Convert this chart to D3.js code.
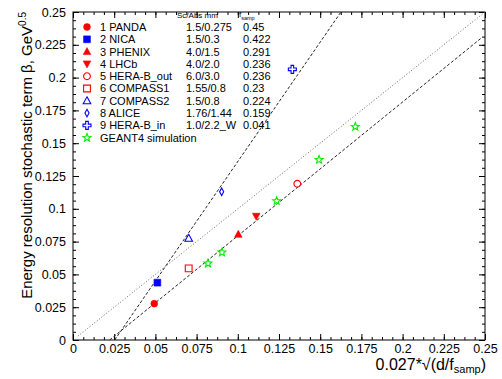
<!DOCTYPE html>
<html><head><meta charset="utf-8">
<script src="https://cdn.jsdelivr.net/npm/d3@7"></script>
<style>
body{margin:0;background:#fff;}
svg{display:block;font-family:"Liberation Sans",Arial,sans-serif;}
</style></head>
<body><svg id="c" width="502" height="379"></svg>
<script>
// ---- data ----
const names = ["1 PANDA","2 NICA","3 PHENIX","4 LHCb","5 HERA-B_out","6 COMPASS1","7 COMPASS2","8 ALICE","9 HERA-B_in"];
const scAbs = ["1.5/0.275","1.5/0.3","4.0/1.5","4.0/2.0","6.0/3.0","1.55/0.8","1.5/0.8","1.76/1.44","1.0/2.2_W"];
const fsamp = ["0.45","0.422","0.291","0.236","0.236","0.23","0.224","0.159","0.041"];
const detX = [0.0493,0.0512,0.1003,0.1112,0.1361,0.0702,0.0702,0.0902,0.1331];
const detY = [0.0277,0.0437,0.0806,0.0943,0.1191,0.0546,0.0775,0.1130,0.2063];
const geantLabel = "GEANT4 simulation";
const geantX = [0.0819,0.0904,0.1236,0.1493,0.1713];
const geantY = [0.0584,0.0668,0.1060,0.1374,0.1626];
const steepLine = [[0.0253,0.0],[0.1626,0.25]];
const shallowLine = [[0.0222,0.0],[0.2480,0.2304]];
const diagLine = [[0.003,0.003],[0.25,0.25]];
const xTicks = [0,0.025,0.05,0.075,0.1,0.125,0.15,0.175,0.2,0.225,0.25];
const yTicks = [0,0.025,0.05,0.075,0.1,0.125,0.15,0.175,0.2,0.225,0.25];

// ---- styles ----
const detStyle = [
 {m:"circle",fill:true,c:"#ff0000"},
 {m:"square",fill:true,c:"#0000ff"},
 {m:"triUp",fill:true,c:"#ff0000"},
 {m:"triDown",fill:true,c:"#ff0000"},
 {m:"circle",fill:false,c:"#ff0000"},
 {m:"square",fill:false,c:"#ff0000"},
 {m:"triUp",fill:false,c:"#0000ff"},
 {m:"diamond",fill:false,c:"#0000ff"},
 {m:"cross",fill:false,c:"#0000ff"}
];
const geantStyle = {m:"star",fill:false,c:"#00ee00"};

const W=502,H=379, L=73, R=485, T=12, B=340;
const svg = d3.select("#c");
const x = d3.scaleLinear().domain([0,0.25]).range([L,R]);
const y = d3.scaleLinear().domain([0,0.25]).range([B,T]);

function markerPath(m){
  const s=3.4;
  switch(m){
    case "circle": return d3.symbol(d3.symbolCircle, Math.PI*s*s)();
    case "square": return `M${-s},${-s}H${s}V${s}H${-s}Z`;
    case "triUp": return `M0,${-s-0.6}L${s+0.4},${s-0.4}L${-s-0.4},${s-0.4}Z`;
    case "triDown": return `M0,${s+0.6}L${s+0.4},${-s+0.4}L${-s-0.4},${-s+0.4}Z`;
    case "diamond": return `M0,${-s-0.4}L${s*0.6},0L0,${s+0.4}L${-s*0.6},0Z`;
    case "cross": {const a=1.3,b=s+0.6; return `M${-a},${-b}H${a}V${-a}H${b}V${a}H${a}V${b}H${-a}V${a}H${-b}V${-a}H${-a}Z`;}
    case "star": {
      const pts=[]; const ro=4.2, ri=1.8;
      for(let i=0;i<10;i++){const r=i%2?ri:ro; const a=-Math.PI/2+i*Math.PI/5; pts.push([r*Math.cos(a),r*Math.sin(a)]);}
      return "M"+pts.map(p=>p.join(",")).join("L")+"Z";
    }
  }
}
function drawMarker(g,cx,cy,st){
  g.append("path").attr("d",markerPath(st.m)).attr("transform",`translate(${cx},${cy})`)
   .attr("fill",st.fill?st.c:"none").attr("stroke",st.c).attr("stroke-width",st.fill?0.6:1.1);
}

// frame
svg.append("rect").attr("x",L).attr("y",T).attr("width",R-L).attr("height",B-T)
  .attr("fill","none").attr("stroke","#000").attr("stroke-width",1);

// axes (ticks inward)
const minorX = d3.range(0,0.2501,0.00625);
function axisG(axis, tr){
  const g=svg.append("g").attr("transform",tr).call(axis);
  g.select(".domain").remove();
  return g;
}
const fmt = d=> d===0?"0":String(+d.toFixed(3));
axisG(d3.axisBottom(x).tickValues(minorX).tickSize(-3).tickFormat(""),`translate(0,${B})`);
axisG(d3.axisTop(x).tickValues(minorX).tickSize(-3).tickFormat(""),`translate(0,${T})`);
axisG(d3.axisLeft(y).tickValues(minorX).tickSize(-3).tickFormat(""),`translate(${L},0)`);
axisG(d3.axisRight(y).tickValues(minorX).tickSize(-3).tickFormat(""),`translate(${R},0)`);
const xb = axisG(d3.axisBottom(x).tickValues(xTicks).tickSize(-6).tickPadding(6).tickFormat(fmt),`translate(0,${B})`);
axisG(d3.axisTop(x).tickValues(xTicks).tickSize(-6).tickFormat(""),`translate(0,${T})`);
const yl = axisG(d3.axisLeft(y).tickValues(yTicks).tickSize(-6).tickPadding(6).tickFormat(fmt),`translate(${L},0)`);
axisG(d3.axisRight(y).tickValues(yTicks).tickSize(-6).tickFormat(""),`translate(${R},0)`);
svg.selectAll(".tick line").attr("stroke","#000");
xb.selectAll("text").attr("font-size",12.5).attr("fill","#000").attr("font-family","Liberation Sans, Arial, sans-serif").attr("y",4.5);
yl.selectAll("text").attr("font-size",12.5).attr("fill","#000").attr("font-family","Liberation Sans, Arial, sans-serif").attr("x",-7);

// lines
const lg=d3.line().x(d=>x(d[0])).y(d=>y(d[1]));
svg.append("path").attr("d",lg(diagLine)).attr("fill","none").attr("stroke","#666").attr("stroke-width",1).attr("stroke-dasharray","1,2");
svg.append("path").attr("d",lg(steepLine)).attr("fill","none").attr("stroke","#222").attr("stroke-width",1).attr("stroke-dasharray","3,2");
svg.append("path").attr("d",lg(shallowLine)).attr("fill","none").attr("stroke","#222").attr("stroke-width",1).attr("stroke-dasharray","3,2");

// points
const pg=svg.append("g");
detX.forEach((v,i)=>drawMarker(pg,x(v),y(detY[i]),detStyle[i]));
geantX.forEach((v,i)=>drawMarker(pg,x(v),y(geantY[i]),geantStyle));

// legend
const leg=svg.append("g").attr("font-size",11).attr("fill","#000");
const rowY = i=>27+i*12.3;
names.forEach((n,i)=>{
  drawMarker(leg,87,rowY(i),detStyle[i]);
  leg.append("text").attr("x",100).attr("y",rowY(i)).attr("dy","0.36em").text(n);
  leg.append("text").attr("x",186).attr("y",rowY(i)).attr("dy","0.36em").text(scAbs[i]);
  leg.append("text").attr("x",243).attr("y",rowY(i)).attr("dy","0.36em").text(fsamp[i]);
});
drawMarker(leg,87,rowY(9),geantStyle);
leg.append("text").attr("x",100).attr("y",rowY(9)).attr("dy","0.36em").text(geantLabel);
svg.append("text").attr("x",177).attr("y",18).attr("font-size",8).text("Sc/Abs mm");
const fs=svg.append("text").attr("x",239).attr("y",17).attr("font-size",8);
fs.append("tspan").text("f");
fs.append("tspan").attr("font-size",5.5).attr("dy",3).text("samp");

// axis titles
const xt=svg.append("text").attr("x",R+1).attr("y",370).attr("text-anchor","end").attr("font-size",16);
xt.append("tspan").text("0.027*\u221A(d/f");
xt.append("tspan").attr("font-size",11).attr("dy",3).text("samp");
xt.append("tspan").attr("dy",-3).text(")");
const yt=svg.append("text").attr("transform",`translate(32,${T}) rotate(-90)`).attr("text-anchor","end").attr("font-size",15);
yt.append("tspan").text("Energy resolution stochastic term \u03B2, GeV");
yt.append("tspan").attr("font-size",10).attr("dy",-6).text("0.5");
</script></body></html>
